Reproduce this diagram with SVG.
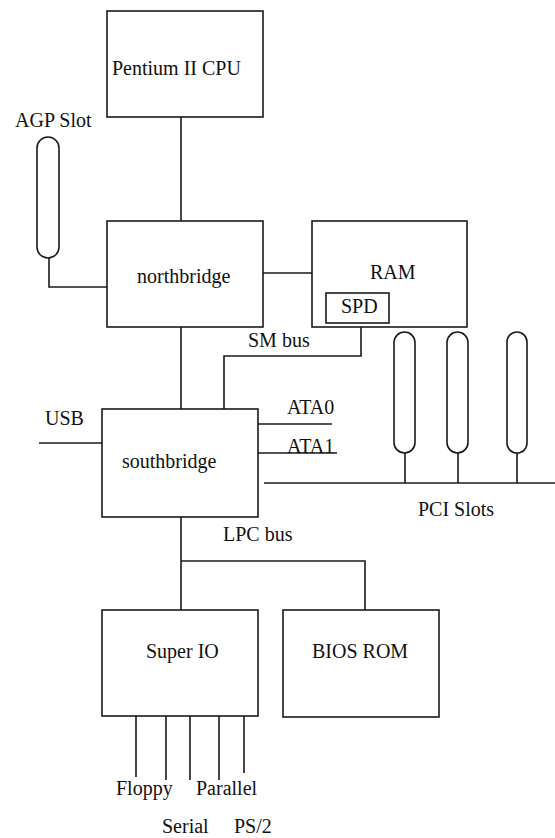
<svg xmlns="http://www.w3.org/2000/svg" width="555" height="838" viewBox="0 0 555 838">
<style>
.b{fill:#fff;stroke:#1a1a1a;stroke-width:1.6}
.c{fill:none;stroke:#1a1a1a;stroke-width:1.6}
</style>
<rect width="555" height="838" fill="#fff"/>
<g id="connectors" class="c">
<path d="M181 117V221"/>
<path d="M49 258V287H107"/>
<path d="M263 273H318"/>
<path d="M181 327V409"/>
<path d="M361 323V356H224V409"/>
<path d="M39 443H102"/>
<path d="M258 424H332"/>
<path d="M258 453H337"/>
<path d="M264 483H555"/>
<path d="M405 453V483M458 453V483M517 453V483"/>
<path d="M181 517V613"/>
<path d="M181 561H365V610"/>
<path d="M136 716V777M166 716V780M190 716V780M219 716V780M244 716V773"/>
</g>
<g id="cpu"><rect class="b" x="107" y="11" width="156" height="106"/><text font-family="Liberation Serif" font-size="20" fill="#111" x="112" y="75">Pentium II CPU</text></g>
<g id="agp"><rect class="b" x="37" y="137" width="22" height="121" rx="11"/><text font-family="Liberation Serif" font-size="20" fill="#111" x="15" y="127">AGP Slot</text></g>
<g id="northbridge"><rect class="b" x="107" y="221" width="156" height="106"/><text font-family="Liberation Serif" font-size="20" fill="#111" x="137" y="283">northbridge</text></g>
<g id="ram"><rect class="b" x="312" y="221" width="155" height="106"/><text font-family="Liberation Serif" font-size="20" fill="#111" x="370" y="279">RAM</text></g>
<g id="spd"><rect class="b" x="326" y="293" width="63" height="30"/><text font-family="Liberation Serif" font-size="20" fill="#111" x="341" y="313">SPD</text></g>
<g id="smbus"><text font-family="Liberation Serif" font-size="20" fill="#111" x="248" y="347">SM bus</text></g>
<g id="southbridge"><rect class="b" x="102" y="409" width="156" height="108"/><text font-family="Liberation Serif" font-size="20" fill="#111" x="122" y="468">southbridge</text></g>
<g id="usb"><text font-family="Liberation Serif" font-size="20" fill="#111" x="45" y="425">USB</text></g>
<g id="ata0"><text font-family="Liberation Serif" font-size="20" fill="#111" x="287" y="414">ATA0</text></g>
<g id="ata1"><text font-family="Liberation Serif" font-size="20" fill="#111" x="287" y="453">ATA1</text></g>
<g id="pci">
<rect class="b" x="394" y="332" width="21" height="121" rx="10.5"/>
<rect class="b" x="447" y="332" width="21" height="121" rx="10.5"/>
<rect class="b" x="507" y="332" width="20" height="121" rx="10"/>
<text font-family="Liberation Serif" font-size="20" fill="#111" x="418" y="516">PCI Slots</text>
</g>
<g id="lpcbus"><text font-family="Liberation Serif" font-size="20" fill="#111" x="223" y="541">LPC bus</text></g>
<g id="superio"><rect class="b" x="102" y="610" width="156" height="106"/><text font-family="Liberation Serif" font-size="20" fill="#111" x="146" y="658">Super IO</text></g>
<g id="biosrom"><rect class="b" x="283" y="610" width="156" height="107"/><text font-family="Liberation Serif" font-size="20" fill="#111" x="312" y="658">BIOS ROM</text></g>
<g id="ports">
<text font-family="Liberation Serif" font-size="20" fill="#111" x="116" y="795">Floppy</text>
<text font-family="Liberation Serif" font-size="20" fill="#111" x="196" y="795">Parallel</text>
<text font-family="Liberation Serif" font-size="20" fill="#111" x="162" y="833">Serial</text>
<text font-family="Liberation Serif" font-size="20" fill="#111" x="234" y="833">PS/2</text>
</g>
</svg>
